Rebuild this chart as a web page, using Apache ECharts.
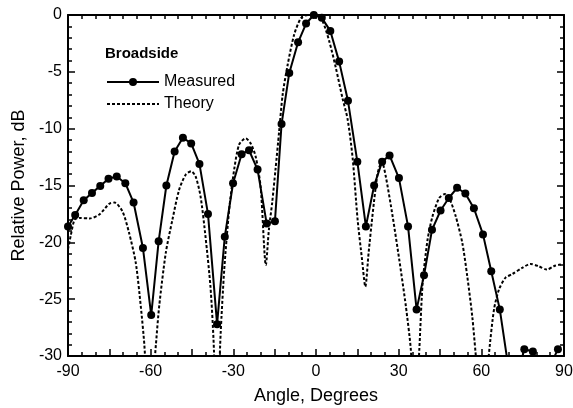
<!DOCTYPE html>
<html>
<head>
<meta charset="utf-8">
<script src="https://cdn.jsdelivr.net/npm/echarts@6/dist/echarts.min.js"></script>
<style>
html,body{margin:0;padding:0;background:#fff;}
#chart{width:573px;height:408px;}
</style>
</head>
<body>
<div id="chart"></div>
<script>
// Measured pattern (angle in degrees, relative power in dB)
const measuredAngle = [-90, -87.4, -84.3, -81.3, -78.3, -75.3, -72.3, -69.2, -66.2, -62.8, -59.8, -57.1, -54.3, -51.3, -48.3, -45.3, -42.3, -39.2, -35.9, -33.1, -30.1, -27.0, -24.3, -21.2, -17.9, -14.9, -12.5, -9.7, -6.5, -3.6, -0.8, 2.1, 5.2, 8.4, 11.6, 15.0, 18.1, 21.1, 24.0, 26.7, 30.1, 33.4, 36.5, 39.2, 42.1, 45.2, 48.2, 51.2, 54.2, 57.3, 60.6, 63.6, 66.7, 69.7, 72.7, 75.6, 78.7, 81.7, 84.7, 87.8];
const measuredDb = [-18.6, -17.6, -16.3, -15.65, -15.05, -14.4, -14.2, -14.8, -16.5, -20.5, -26.4, -19.9, -15.0, -12.0, -10.8, -11.3, -13.1, -17.5, -27.2, -19.5, -14.8, -12.25, -11.9, -13.6, -18.35, -18.15, -9.6, -5.1, -2.4, -0.75, 0, -0.25, -1.4, -4.1, -7.55, -12.9, -18.6, -15.0, -12.9, -12.35, -14.35, -18.6, -25.9, -22.9, -18.9, -17.2, -16.1, -15.2, -15.7, -17.0, -19.3, -22.55, -25.9, -30.8, -32, -29.4, -29.6, -31, -31, -29.4];

// Theory pattern
const theoryAngle = [-90, -89.0, -87.6, -85.8, -82.2, -78.6, -75.0, -73.1, -70.2, -67.8, -65.4, -63.6, -62.3, -60.5, -58.1, -56.9, -54.5, -52.1, -49.7, -47.3, -45.3, -43.7, -41.9, -40.1, -38.3, -37.2, -36.0, -34.6, -33.3, -31.5, -29.7, -27.9, -25.5, -23.7, -21.9, -20.1, -18.2, -17.1, -15.9, -14.7, -13.4, -12.1, -10.3, -7.9, -5.4, -3.0, -1.2, 0.5, 2.4, 4.8, 7.2, 9.6, 11.5, 13.3, 15.1, 16.7, 17.9, 19.1, 20.6, 22.4, 23.9, 25.4, 27.8, 30.2, 32.6, 34.4, 36.0, 37.5, 38.7, 40.5, 42.3, 44.7, 46.8, 48.6, 50.7, 53.1, 54.9, 56.7, 57.9, 60.3, 62.8, 64.6, 66.4, 68.8, 71.2, 74.8, 77.8, 80.8, 83.8, 86.3, 88.7, 90];
const theoryDb = [-20.6, -19.4, -18.0, -17.85, -17.9, -17.55, -16.6, -16.5, -17.3, -19.2, -21.8, -25.6, -29.0, -36, -29.0, -25.6, -20.9, -18.0, -15.4, -14.05, -13.75, -14.2, -15.95, -19.5, -23.9, -28.5, -36, -28.0, -22.4, -17.1, -13.6, -11.4, -10.85, -11.3, -12.45, -15.1, -22.0, -18.9, -16.5, -13.6, -10.3, -7.0, -4.4, -1.7, -0.26, 0, 0, -0.1, -0.55, -2.3, -4.65, -7.3, -9.2, -12.6, -18.0, -21.5, -23.9, -20.9, -17.4, -13.9, -12.9, -14.3, -17.7, -21.5, -25.6, -29.4, -36, -29.4, -23.6, -19.75, -17.7, -16.1, -15.75, -16.25, -17.7, -20.05, -23.0, -26.5, -29.7, -36, -29.7, -25.9, -24.15, -23.1, -22.8, -22.25, -21.9, -22.1, -22.4, -22.1, -21.95, -21.9];

const xLabelValues = [-90, -60, -30, 0, 30, 60, 90];

const FONT = "'Liberation Sans', Arial, Helvetica, sans-serif";
const pair = (xs, ys) => xs.map((x, i) => [x, ys[i]]);

const chart = echarts.init(document.getElementById('chart'), null, {renderer: 'canvas'});
chart.setOption({
  animation: false,
  backgroundColor: '#ffffff',
  textStyle: {fontFamily: FONT, color: '#000'},
  grid: {left: 68, right: 9, top: 15, bottom: 52, containLabel: false, outerBoundsMode: 'none'},
  title: {
    text: 'Broadside', left: 100, top: 41,
    textStyle: {fontFamily: FONT, fontSize: 15, fontWeight: 'bold', color: '#000'}
  },
  legend: {
    orient: 'vertical', left: 101, top: 69, itemWidth: 52, itemHeight: 10, itemGap: 6,
    textStyle: {fontFamily: FONT, fontSize: 16, color: '#000'},
    data: [
      {name: 'Measured'},
      {name: 'Theory', itemStyle: {color: 'rgba(0,0,0,0)', borderWidth: 0}}
    ]
  },
  xAxis: [{
    type: 'value', min: -90, max: 90, interval: 15,
    name: 'Angle, Degrees', nameLocation: 'middle', nameGap: 31,
    nameTextStyle: {fontFamily: FONT, fontSize: 18, color: '#000'},
    axisLine: {show: true, onZero: false, lineStyle: {color: '#000', width: 2}},
    axisTick: {show: true, inside: true, length: 7, lineStyle: {color: '#000', width: 1.5}},
    minorTick: {show: true, splitNumber: 3, length: 4, lineStyle: {color: '#000', width: 1.5}},
    splitLine: {show: false},
    axisLabel: {
      fontFamily: FONT, fontSize: 16, color: '#000', margin: 8,
      formatter: v => xLabelValues.indexOf(v) >= 0 ? String(v) : ''
    }
  }, {
    type: 'value', min: -90, max: 90, interval: 5, position: 'top',
    axisLine: {show: true, onZero: false, lineStyle: {color: '#000', width: 2}},
    axisTick: {show: true, inside: true, length: 4, lineStyle: {color: '#000', width: 1.5}},
    axisLabel: {show: false}, splitLine: {show: false}
  }],
  yAxis: [{
    type: 'value', min: -30, max: 0, interval: 5,
    name: 'Relative Power, dB', nameLocation: 'middle', nameGap: 38,
    nameTextStyle: {fontFamily: FONT, fontSize: 18, color: '#000'},
    axisLine: {show: true, onZero: false, lineStyle: {color: '#000', width: 2}},
    axisTick: {show: true, inside: true, length: 7, lineStyle: {color: '#000', width: 1.5}},
    minorTick: {show: true, splitNumber: 5, length: 4, lineStyle: {color: '#000', width: 1.5}},
    splitLine: {show: false},
    axisLabel: {fontFamily: FONT, fontSize: 16, color: '#000', margin: 6}
  }, {
    type: 'value', min: -30, max: 0, interval: 5, position: 'right',
    axisLine: {show: true, onZero: false, lineStyle: {color: '#000', width: 2}},
    axisTick: {show: true, inside: true, length: 7, lineStyle: {color: '#000', width: 1.5}},
    minorTick: {show: true, splitNumber: 5, length: 4, lineStyle: {color: '#000', width: 1.5}},
    axisLabel: {show: false}, splitLine: {show: false}
  }],
  series: [{
    name: 'Theory', type: 'line', xAxisIndex: 0, yAxisIndex: 0,
    data: pair(theoryAngle, theoryDb),
    showSymbol: false, symbol: 'none', smooth: 0.25, clip: true,
    lineStyle: {color: '#000', width: 2, type: [3, 2]},
    itemStyle: {color: '#000'}, z: 2
  }, {
    name: 'Measured', type: 'line', xAxisIndex: 0, yAxisIndex: 0,
    data: pair(measuredAngle, measuredDb),
    symbol: 'circle', symbolSize: 8, showAllSymbol: true, clip: true,
    lineStyle: {color: '#000', width: 2},
    itemStyle: {color: '#000'}, z: 3
  }]
});
</script>
</body>
</html>
